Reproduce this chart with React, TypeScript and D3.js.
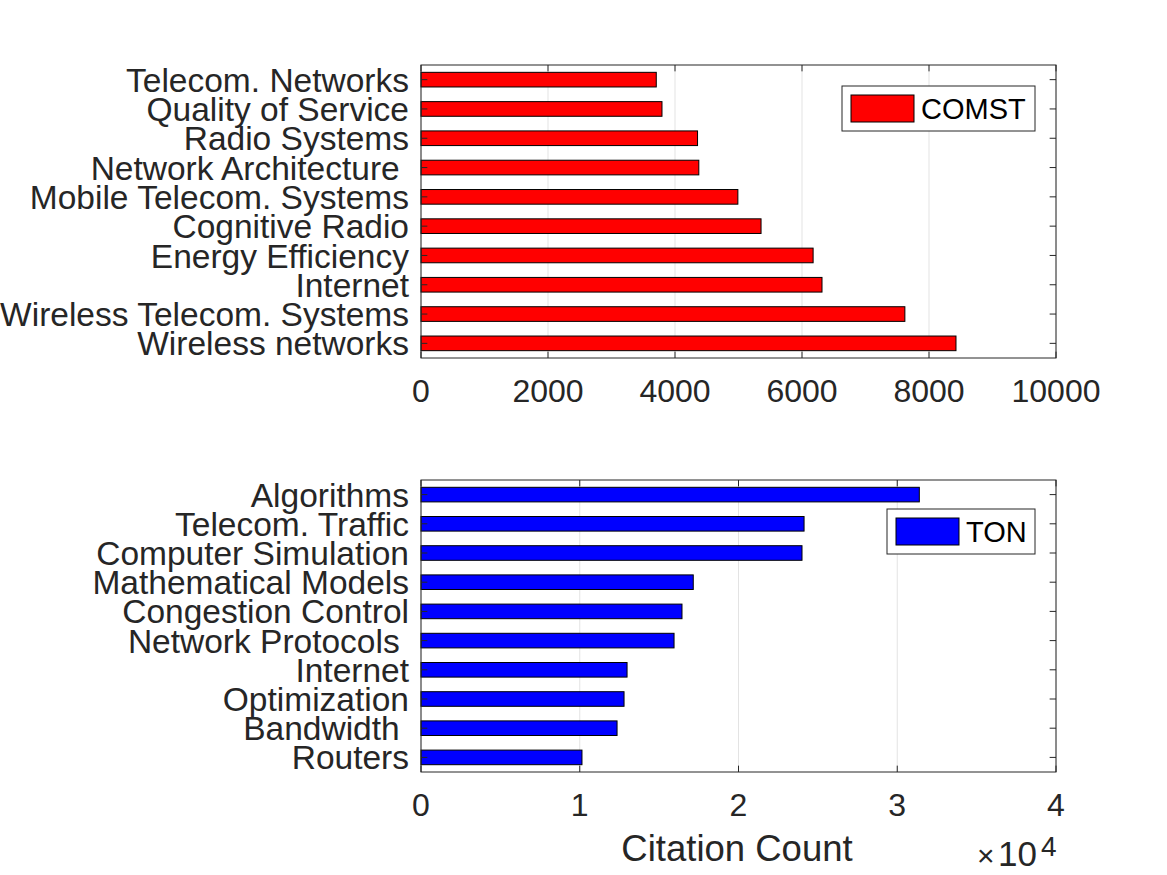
import React from 'react'
import * as d3 from 'd3'

// top panel (COMST), listed top to bottom
const comstTopics = [
    'Telecom. Networks',
    'Quality of Service',
    'Radio Systems',
    'Network Architecture ',
    'Mobile Telecom. Systems',
    'Cognitive Radio',
    'Energy Efficiency',
    'Internet',
    'Wireless Telecom. Systems',
    'Wireless networks',
]
const comstCounts = [3705, 3795, 4355, 4375, 4990, 5355, 6175, 6315, 7620, 8425]
const comstTicks = [0, 2000, 4000, 6000, 8000, 10000]

// bottom panel (TON), listed top to bottom
const tonTopics = [
    'Algorithms',
    'Telecom. Traffic',
    'Computer Simulation',
    'Mathematical Models',
    'Congestion Control',
    'Network Protocols ',
    'Internet',
    'Optimization',
    'Bandwidth ',
    'Routers',
]
const tonCounts = [31390, 24130, 24000, 17150, 16440, 15940, 12980, 12790, 12350, 10140]
const tonTicks = [0, 10000, 20000, 30000, 40000]

const W = 1167
const H = 875
const FONT = '"Liberation Sans", Arial, Helvetica, sans-serif'
const INK = '#262626'

interface PanelProps {
    top: number
    bottom: number
    topics: string[]
    counts: number[]
    ticks: number[]
    max: number
    color: string
    legend: string
    legendBox: { x: number; y: number; w: number; h: number }
    tickFmt: (v: number) => string
}

const Panel: React.FC<PanelProps> = ({ top, bottom, topics, counts, ticks, max, color, legend, legendBox, tickFmt }) => {
    const left = 421
    const right = 1056
    const x = d3.scaleLinear().domain([0, max]).range([left, right])
    const y = d3.scaleBand<string>().domain(topics).range([top, bottom]).paddingInner(0.5).paddingOuter(0.25)
    const tl = 6.35

    return (
        <g>
            {/* grid */}
            {ticks.map((t) => (
                <line key={'g' + t} x1={x(t)} x2={x(t)} y1={top} y2={bottom} stroke="#e3e3e3" strokeWidth={1} />
            ))}
            {/* bars */}
            {topics.map((c, i) => (
                <rect
                    key={c}
                    x={x(0)}
                    y={y(c)}
                    width={x(counts[i]) - x(0)}
                    height={y.bandwidth()}
                    fill={color}
                    stroke="#000"
                    strokeWidth={1}
                />
            ))}
            {/* box */}
            <rect x={left} y={top} width={right - left} height={bottom - top} fill="none" stroke={INK} strokeWidth={1} />
            {/* x ticks */}
            {ticks.map((t) => (
                <g key={'t' + t}>
                    <line x1={x(t)} x2={x(t)} y1={bottom} y2={bottom - tl} stroke={INK} />
                    <line x1={x(t)} x2={x(t)} y1={top} y2={top + tl} stroke={INK} />
                    <text x={x(t)} y={bottom + 44} textAnchor="middle" fontSize={32} fill={INK} fontFamily={FONT}>
                        {tickFmt(t)}
                    </text>
                </g>
            ))}
            {/* y ticks + labels */}
            {topics.map((c) => {
                const cy = (y(c) || 0) + y.bandwidth() / 2
                return (
                    <g key={'y' + c}>
                        <line x1={left} x2={left + tl} y1={cy} y2={cy} stroke={INK} />
                        <line x1={right} x2={right - tl} y1={cy} y2={cy} stroke={INK} />
                        <text
                            x={409}
                            y={cy}
                            dy="0.36em"
                            textAnchor="end"
                            fontSize={33.5}
                            fill={INK}
                            fontFamily={FONT}
                            style={{ whiteSpace: 'pre' }}
                        >
                            {c}
                        </text>
                    </g>
                )
            })}
            {/* legend */}
            <rect x={legendBox.x} y={legendBox.y} width={legendBox.w} height={legendBox.h} fill="#fff" stroke={INK} strokeWidth={1} />
            <rect x={legendBox.x + 9} y={legendBox.y + 9} width={63} height={legendBox.h - 18} fill={color} stroke="#000" strokeWidth={1} />
            <text x={legendBox.x + 79} y={legendBox.y + legendBox.h / 2} dy="0.36em" fontSize={29} fill="#000" fontFamily={FONT}>
                {legend}
            </text>
        </g>
    )
}

const App: React.FC = () => {
    return (
        <svg width={W} height={H} style={{ position: 'absolute', left: 0, top: 0, background: '#fff' }}>
            <rect x={0} y={0} width={W} height={H} fill="#fff" />
            <Panel
                top={65}
                bottom={358}
                topics={comstTopics}
                counts={comstCounts}
                ticks={comstTicks}
                max={10000}
                color="#ff0000"
                legend="COMST"
                legendBox={{ x: 842, y: 86, w: 193, h: 45 }}
                tickFmt={(v) => String(v)}
            />
            <Panel
                top={480}
                bottom={772}
                topics={tonTopics}
                counts={tonCounts}
                ticks={tonTicks}
                max={40000}
                color="#0000ff"
                legend="TON"
                legendBox={{ x: 887, y: 509, w: 148, h: 45 }}
                tickFmt={(v) => String(v / 10000)}
            />
            <text x={737} y={861} textAnchor="middle" fontSize={36.5} fill={INK} fontFamily={FONT}>
                Citation Count
            </text>
            <text x={977} y={866} fontSize={30} fill={INK} fontFamily={FONT}>
                ×
            </text>
            <text x={998} y={866} fontSize={35} fill={INK} fontFamily={FONT}>
                10
            </text>
            <text x={1041} y={856} fontSize={28} fill={INK} fontFamily={FONT}>
                4
            </text>
        </svg>
    )
}

export default App
